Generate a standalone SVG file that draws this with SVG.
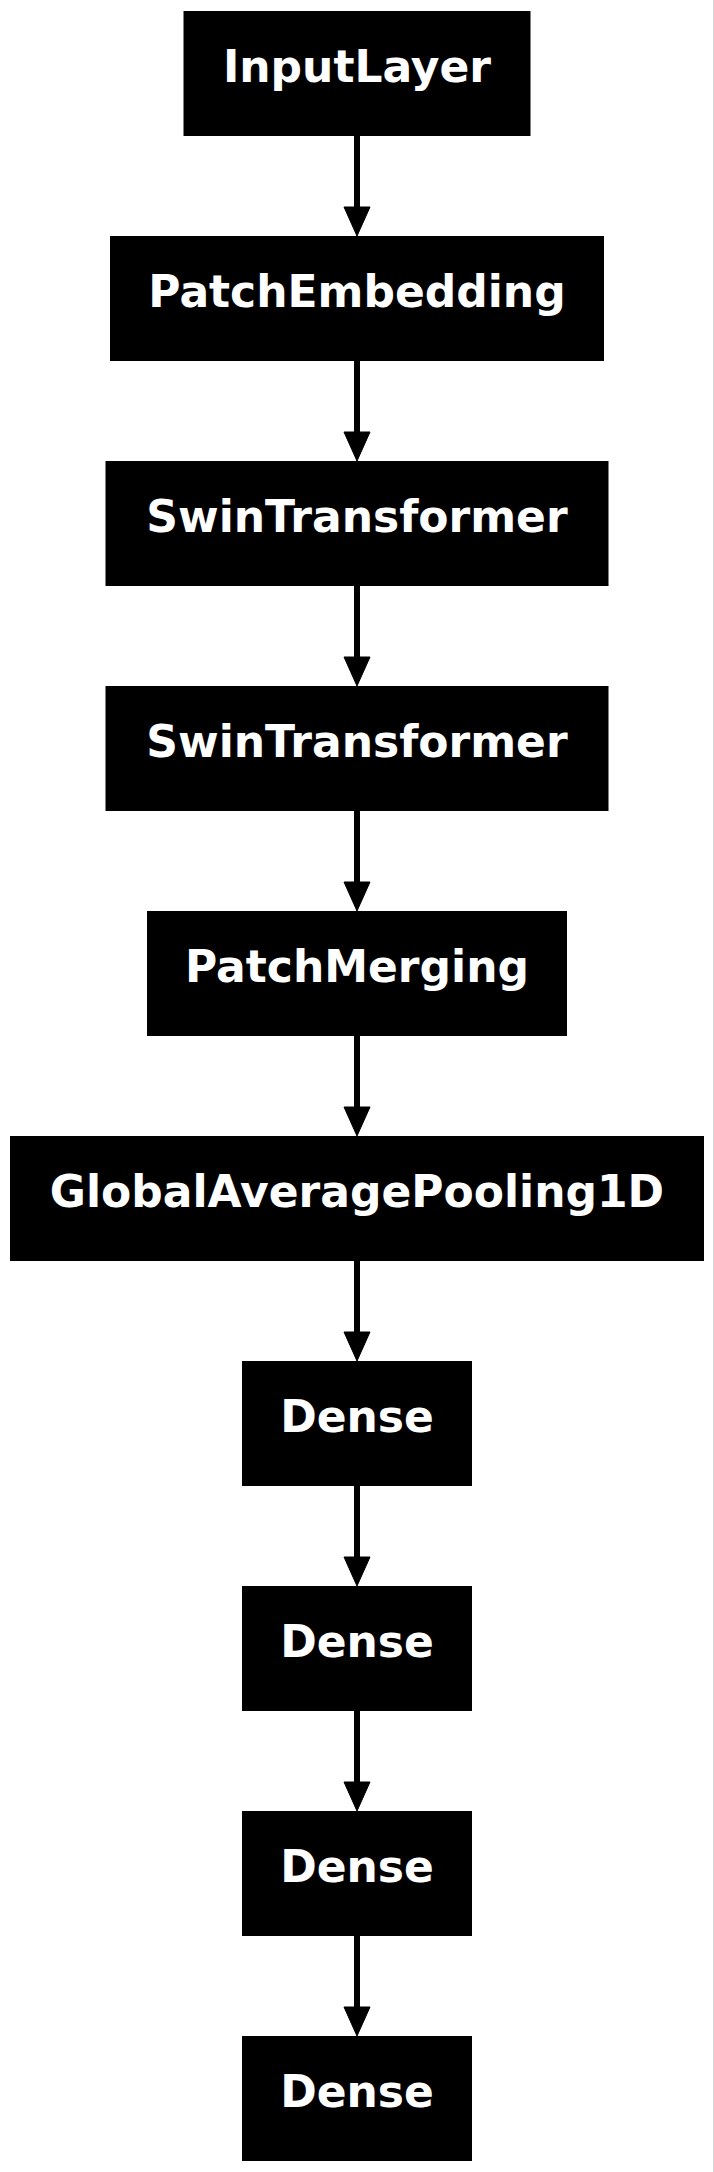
<svg xmlns="http://www.w3.org/2000/svg" width="714" height="2172" viewBox="0 0 714 2172">
<style>
.box{fill:#000}
.lbl{fill:#fff;font-family:"DejaVu Sans",sans-serif;font-weight:bold;font-size:44px;text-anchor:middle}
.edge{stroke:#000;stroke-width:6;fill:none}
.head{fill:#000;stroke:#000;stroke-width:1}
</style>
<rect x="0" y="0" width="714" height="2172" fill="#fff"/>
<rect x="713" y="0" width="1" height="2172" fill="#d3d3d3"/>
<g id="connectors">
<line class="edge" x1="357" y1="136" x2="357" y2="208"/><polygon class="head" points="344,207 370,207 357,236"/>
<line class="edge" x1="357" y1="361" x2="357" y2="433"/><polygon class="head" points="344,432 370,432 357,461"/>
<line class="edge" x1="357" y1="586" x2="357" y2="658"/><polygon class="head" points="344,657 370,657 357,686"/>
<line class="edge" x1="357" y1="811" x2="357" y2="883"/><polygon class="head" points="344,882 370,882 357,911"/>
<line class="edge" x1="357" y1="1036" x2="357" y2="1108"/><polygon class="head" points="344,1107 370,1107 357,1136"/>
<line class="edge" x1="357" y1="1261" x2="357" y2="1333"/><polygon class="head" points="344,1332 370,1332 357,1361"/>
<line class="edge" x1="357" y1="1486" x2="357" y2="1558"/><polygon class="head" points="344,1557 370,1557 357,1586"/>
<line class="edge" x1="357" y1="1711" x2="357" y2="1783"/><polygon class="head" points="344,1782 370,1782 357,1811"/>
<line class="edge" x1="357" y1="1936" x2="357" y2="2008"/><polygon class="head" points="344,2007 370,2007 357,2036"/>
</g>
<g id="n0"><rect class="box" x="183.5" y="11" width="347" height="125"/><text class="lbl" x="357" y="81.7">InputLayer</text></g>
<g id="n1"><rect class="box" x="110" y="236" width="494" height="125"/><text class="lbl" x="357" y="306.7">PatchEmbedding</text></g>
<g id="n2"><rect class="box" x="105.5" y="461" width="503" height="125"/><text class="lbl" x="357" y="531.7">SwinTransformer</text></g>
<g id="n3"><rect class="box" x="105.5" y="686" width="503" height="125"/><text class="lbl" x="357" y="756.7">SwinTransformer</text></g>
<g id="n4"><rect class="box" x="147" y="911" width="420" height="125"/><text class="lbl" x="357" y="981.7">PatchMerging</text></g>
<g id="n5"><rect class="box" x="10" y="1136" width="694" height="125"/><text class="lbl" x="357" y="1206.7">GlobalAveragePooling1D</text></g>
<g id="n6"><rect class="box" x="242" y="1361" width="230" height="125"/><text class="lbl" x="357" y="1431.7">Dense</text></g>
<g id="n7"><rect class="box" x="242" y="1586" width="230" height="125"/><text class="lbl" x="357" y="1656.7">Dense</text></g>
<g id="n8"><rect class="box" x="242" y="1811" width="230" height="125"/><text class="lbl" x="357" y="1881.7">Dense</text></g>
<g id="n9"><rect class="box" x="242" y="2036" width="230" height="125"/><text class="lbl" x="357" y="2106.7">Dense</text></g>
</svg>
